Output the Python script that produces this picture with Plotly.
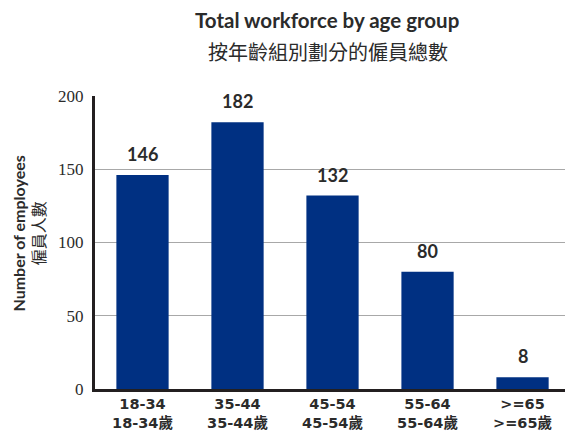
import plotly.graph_objects as go

categories = ["18-34<br>18-34歲", "35-44<br>35-44歲", "45-54<br>45-54歲", "55-64<br>55-64歲", ">=65<br>>=65歲"]
values = [146, 182, 132, 80, 8]
y_ticks = [0, 50, 100, 150, 200]

BAR = "#003082"
TXT = "#2b2b2b"
SANS = "Lato, 'Noto Sans CJK TC', sans-serif"
WIDE = "'DejaVu Sans', 'Noto Sans CJK TC', sans-serif"

x_idx = list(range(len(categories)))

fig = go.Figure()
fig.add_trace(go.Bar(x=x_idx, y=values, marker=dict(color=BAR, line=dict(width=0)),
                     width=0.55, hoverinfo="skip"))

for i, v in zip(x_idx, values):
    fig.add_annotation(x=i, y=v, text=f"<b>{v}</b>", showarrow=False, yanchor="bottom",
                       yshift=8, font=dict(family=SANS, size=18, color=TXT))

fig.add_annotation(xref="paper", yref="paper", x=0.494, y=1.0, yshift=76, xanchor="center",
                   yanchor="middle", showarrow=False, text="<b>Total workforce by age group</b>",
                   font=dict(family=SANS, size=20.5, color=TXT))
fig.add_annotation(xref="paper", yref="paper", x=0.496, y=1.0, yshift=45, xanchor="center",
                   yanchor="middle", showarrow=False, text="按年齡組別劃分的僱員總數",
                   font=dict(family="'Noto Sans CJK TC', sans-serif", size=20, color=TXT))
fig.add_annotation(xref="paper", yref="paper", x=0, xshift=-67, y=0.5, yshift=9, xanchor="center",
                   yanchor="middle", showarrow=False, textangle=-90,
                   text="<b>Number of employees</b><br>僱員人數",
                   font=dict(family=SANS, size=16, color=TXT))

fig.update_layout(
    width=565, height=438,
    margin=dict(l=95, r=0, t=96, b=49),
    paper_bgcolor="white", plot_bgcolor="white",
    showlegend=False,
    bargap=0.45,
)
fig.update_xaxes(range=[-0.5, 4.447], tickmode="array", tickvals=x_idx, ticktext=[f"<b>{c}</b>" for c in categories],
                 showline=True, linecolor="#231f20", linewidth=3, ticks="", showgrid=False,
                 tickfont=dict(family=WIDE, size=14.5, color=TXT), fixedrange=True)
fig.update_yaxes(range=[0, 200], tickmode="array", tickvals=y_ticks,
                 showline=True, linecolor="#231f20", linewidth=3, ticks="",
                 showgrid=True, gridcolor="#a8a8a8", gridwidth=1, zeroline=False,
                 tickfont=dict(family="'Liberation Serif', serif", size=17, color=TXT),
                 ticklabelstandoff=5, fixedrange=True)

fig.write_html("out.html")
